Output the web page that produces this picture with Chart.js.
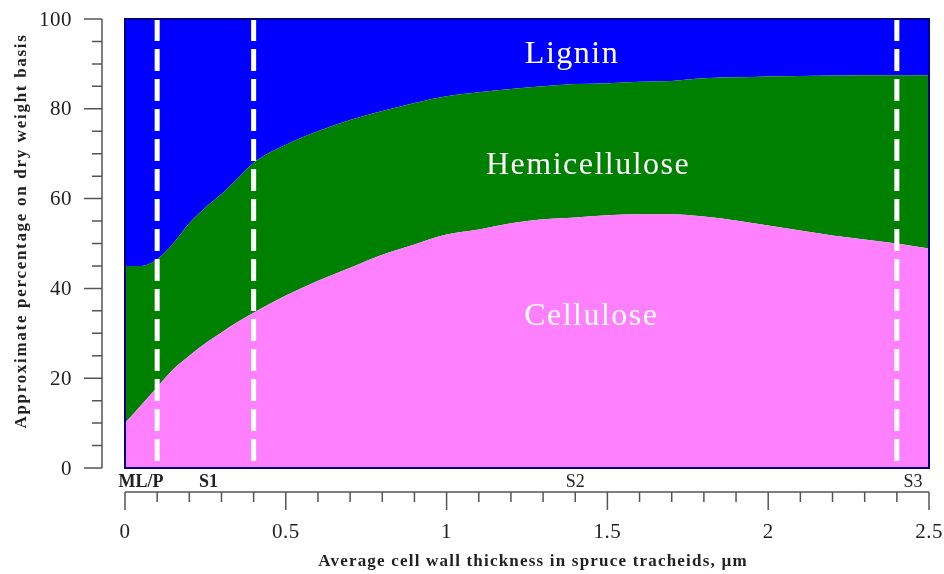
<!DOCTYPE html>
<html>
<head>
<meta charset="utf-8">
<script src="https://cdn.jsdelivr.net/npm/chart.js@4.4.0/dist/chart.umd.min.js"></script>
<style>
  html, body { margin: 0; padding: 0; background: #fff; }
  #wrap { width: 944px; height: 574px; }
</style>
</head>
<body>
<div id="wrap"><canvas id="chart"></canvas></div>
<script>
// wall thickness (µm) and composition (% of dry weight)
const thickness = [0, 0.05, 0.1, 0.15, 0.2, 0.25, 0.3, 0.35, 0.4, 0.5, 0.6, 0.7, 0.8, 0.9, 1.0,
    1.1, 1.2, 1.3, 1.4, 1.5, 1.6, 1.7, 1.8, 1.9, 2.0, 2.1, 2.2, 2.3, 2.4, 2.5];
const cellulose = [10, 14, 18, 22, 25, 27.8, 30.2, 32.5, 34.6, 38.4, 41.7, 44.6, 47.5, 49.8, 52,
    53.1, 54.5, 55.4, 55.8, 56.3, 56.5, 56.5, 56, 55.1, 54, 52.9, 51.8, 50.9, 50, 48.9];
const hemicellulose = [35, 31, 28.5, 28, 29.5, 30.2, 30.8, 32, 33.4, 33.6, 33.3, 32.9, 32, 31.5, 30.8,
    30.6, 29.9, 29.6, 29.7, 29.4, 29.5, 29.7, 30.8, 31.9, 33.2, 34.4, 35.6, 36.6, 37.5, 38.6];
const lignin = [55, 55, 53.5, 50, 45.5, 42, 39, 35.5, 32, 28, 25, 22.5, 20.5, 18.7, 17.2,
    16.3, 15.6, 15, 14.5, 14.3, 14, 13.8, 13.2, 13, 12.8, 12.7, 12.6, 12.5, 12.5, 12.5];

// layer boundaries and their names
const boundaries = [0.1, 0.4, 2.4];
const layerNames = ['ML/P', 'S1', 'S2', 'S3'];
const layerPos = [0.05, 0.26, 1.4, 2.45];

const xTicks = [0, 0.5, 1, 1.5, 2, 2.5];
const yTicks = [0, 20, 40, 60, 80, 100];

const SERIF = '"Liberation Serif", "DejaVu Serif", serif';

function points(values) {
    return thickness.map((x, i) => ({ x: x, y: values[i] }));
}

const overlay = {
    id: 'overlay',
    afterDatasetsDraw(chart) {
        const ctx = chart.ctx;
        const xs = chart.scales.x;
        const ys = chart.scales.y;
        const area = chart.chartArea;

        ctx.save();

        // dashed layer boundaries
        ctx.strokeStyle = '#fff';
        ctx.lineWidth = 5;
        ctx.setLineDash([22, 8]);
        boundaries.forEach(b => {
            const px = xs.getPixelForValue(b);
            ctx.beginPath();
            ctx.moveTo(px, area.top);
            ctx.lineTo(px, area.bottom);
            ctx.stroke();
        });
        ctx.setLineDash([]);

        // frame round the plot
        ctx.strokeStyle = '#000080';
        ctx.lineWidth = 2;
        ctx.strokeRect(area.left, area.top, area.right - area.left, area.bottom - area.top);

        // names of the components
        ctx.fillStyle = '#fff';
        ctx.font = '32px ' + SERIF;
        ctx.letterSpacing = '1.5px';
        ctx.textAlign = 'center';
        ctx.textBaseline = 'middle';
        ctx.fillText('Lignin', xs.getPixelForValue(1.39), ys.getPixelForValue(92));
        ctx.fillText('Hemicellulose', xs.getPixelForValue(1.44), ys.getPixelForValue(67.3));
        ctx.fillText('Cellulose', xs.getPixelForValue(1.45), ys.getPixelForValue(33.7));

        // y axis, set off to the left
        const axisX = area.left - 23;
        ctx.strokeStyle = '#555';
        ctx.lineWidth = 1.5;
        ctx.beginPath();
        ctx.moveTo(axisX, ys.getPixelForValue(0));
        ctx.lineTo(axisX, ys.getPixelForValue(100));
        for (let v = 0; v <= 100; v += 5) {
            const py = ys.getPixelForValue(v);
            ctx.moveTo(axisX, py);
            ctx.lineTo(axisX - (v % 20 === 0 ? 18 : 10), py);
        }
        ctx.stroke();

        ctx.fillStyle = '#222';
        ctx.letterSpacing = '0.5px';
        ctx.font = '21px ' + SERIF;
        ctx.textAlign = 'right';
        yTicks.forEach(v => ctx.fillText(String(v), axisX - 30, ys.getPixelForValue(v) + 1));

        // x axis, set off below
        const axisY = area.bottom + 24;
        ctx.beginPath();
        ctx.moveTo(xs.getPixelForValue(0), axisY);
        ctx.lineTo(xs.getPixelForValue(2.5), axisY);
        for (let i = 0; i <= 25; i++) {
            const px = xs.getPixelForValue(i / 10);
            ctx.moveTo(px, axisY);
            ctx.lineTo(px, axisY + (i % 5 === 0 ? 18 : 10));
        }
        ctx.stroke();

        ctx.textAlign = 'center';
        xTicks.forEach(v => ctx.fillText(String(v), xs.getPixelForValue(v), axisY + 40));

        // layer names between plot and x axis
        ctx.letterSpacing = '0px';
        layerNames.forEach((name, i) => {
            ctx.font = (i < 2 ? 'bold ' : '') + '18px ' + SERIF;
            ctx.fillText(name, xs.getPixelForValue(layerPos[i]), area.bottom + 14);
        });

        // axis titles
        ctx.font = 'bold 17px ' + SERIF;
        ctx.letterSpacing = '1.2px';
        ctx.fillText('Average cell wall thickness in spruce tracheids, \u00b5m', 533, 562);

        ctx.translate(22, 231);
        ctx.rotate(-Math.PI / 2);
        ctx.font = 'bold 17px ' + SERIF;
        ctx.letterSpacing = '1.7px';
        ctx.fillText('Approximate percentage on dry weight basis', 0, 0);

        ctx.restore();
    }
};

const ctx = document.getElementById('chart').getContext('2d');

new Chart(ctx, {
    type: 'line',
    data: {
        datasets: [
            {
                label: 'Cellulose',
                data: points(cellulose),
                backgroundColor: '#ff80ff',
                fill: 'origin'
            },
            {
                label: 'Hemicellulose',
                data: points(hemicellulose),
                backgroundColor: '#008000',
                fill: '-1'
            },
            {
                label: 'Lignin',
                data: points(lignin),
                backgroundColor: '#0000ff',
                fill: '-1'
            }
        ]
    },
    options: {
        responsive: true,
        maintainAspectRatio: false,
        animation: false,
        layout: {
            padding: { left: 125, right: 15, top: 19, bottom: 106 }
        },
        elements: {
            point: { radius: 0 },
            line: { borderWidth: 0, tension: 0.4, cubicInterpolationMode: 'monotone' }
        },
        plugins: {
            legend: { display: false },
            tooltip: { enabled: false }
        },
        scales: {
            x: { type: 'linear', min: 0, max: 2.5, display: false },
            y: { stacked: true, min: 0, max: 100, display: false }
        }
    },
    plugins: [overlay]
});
</script>
</body>
</html>
